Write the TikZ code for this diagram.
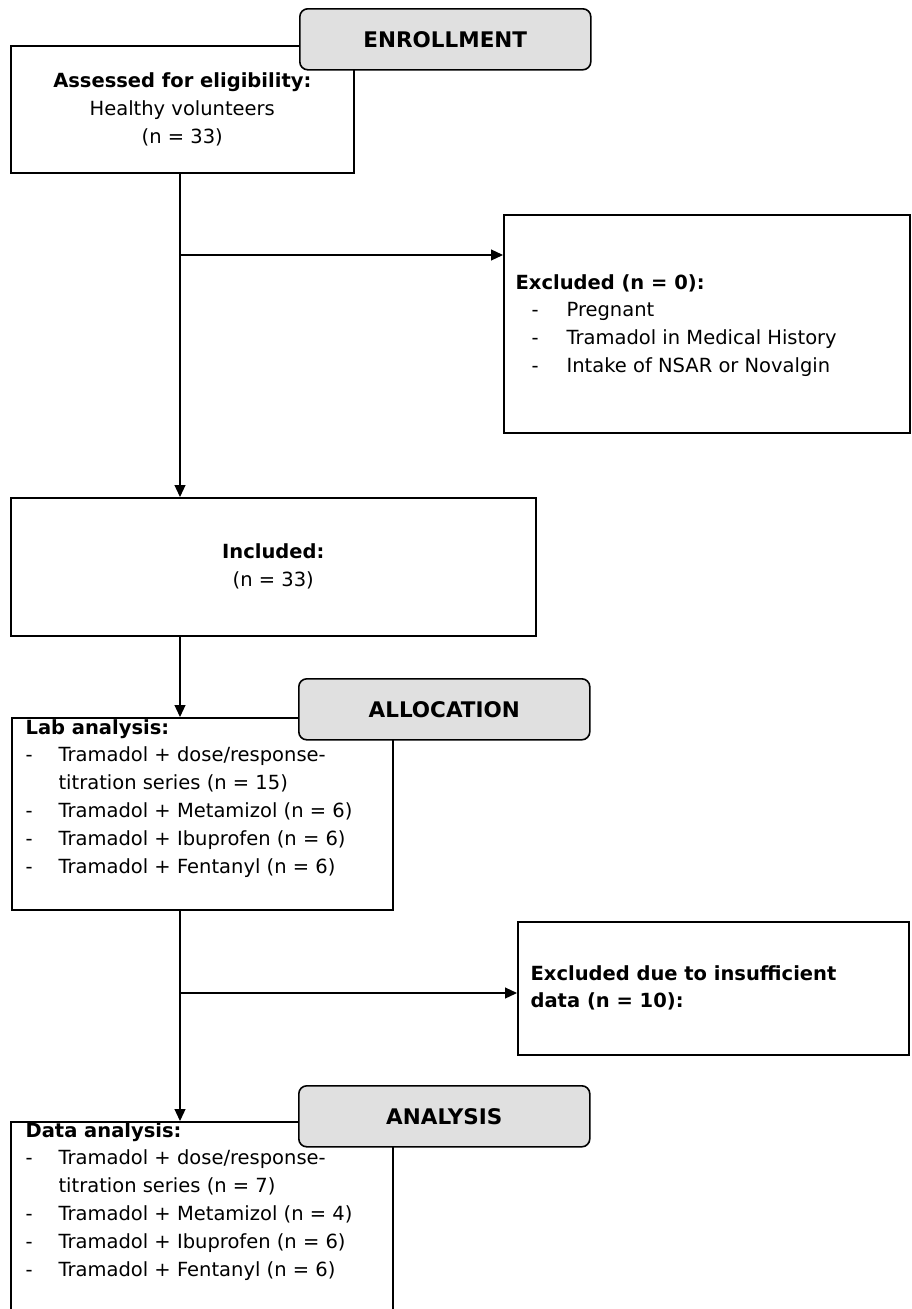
\documentclass[tikz,border=0pt]{standalone}
\usepackage{fontspec}
\setmainfont{DejaVu Sans}
\usetikzlibrary{arrows.meta}

\def\linesep{27.8}
\newcommand{\lstdash}{\makebox[33pt][l]{-}}
\newcommand{\lstgap}{\hspace*{33pt}}

\begin{document}
\begin{tikzpicture}[x=1pt,y=-1pt,->,>={Triangle[length=12pt,width=11pt]},line width=1.2pt]
        \tikzstyle{box}=[draw=black,line width=1.6pt,rectangle,anchor=north west,inner sep=0pt,align=center,font=\fontsize{19.5}{28}\selectfont]
        \tikzstyle{stage}=[box,rounded corners=8pt,fill=black!12,minimum width=291pt,minimum height=61pt,font=\fontsize{21.5}{24}\selectfont\bfseries]
        \tikzstyle{txt}=[anchor=base west,inner sep=0pt,font=\fontsize{19.5}{28}\selectfont]
        \tikzstyle{hd}=[txt,font=\fontsize{19.5}{28}\selectfont\bfseries]

        \useasboundingbox (0,0) rectangle (912,1309);

        % Draw the boxes
        \node[box,minimum width=343pt,minimum height=127pt] (assess) at (10,45) {\textbf{Assessed for eligibility:}\\Healthy volunteers\\(n = 33)};
        \node[box,minimum width=406pt,minimum height=218pt] (excl) at (503,214) {};
        \node[box,minimum width=525pt,minimum height=138pt] (incl) at (10,497) {\textbf{Included:}\\(n = 33)};
        \node[box,minimum width=381pt,minimum height=192pt] (lab) at (11,717) {};
        \node[box,minimum width=391pt,minimum height=133pt] (insuf) at (517,921) {};
        \node[box,minimum width=382pt,minimum height=230pt] (data) at (10,1121) {};

        % Stage labels
        \node[stage] (enroll) at (299,8) {ENROLLMENT};
        \node[stage] (alloc) at (298,678) {ALLOCATION};
        \node[stage] (anal) at (298,1085) {ANALYSIS};

        \node[hd] (excl-h) at (515,289) {Excluded (n = 0):};
        \foreach \txt [count=\i] in {Pregnant, Tramadol in Medical History, Intake of NSAR or Novalgin}
            \node[txt] (excl-\i) at (531,289+\i*\linesep) {\makebox[35pt][l]{-}\txt};

        \node[hd] (lab-h) at (25,734) {Lab analysis:};
        \foreach \txt [count=\i] in {{\lstdash Tramadol + dose/response-}, {\lstgap titration series (n = 15)},
                {\lstdash Tramadol + Metamizol (n = 6)}, {\lstdash Tramadol + Ibuprofen (n = 6)}, {\lstdash Tramadol + Fentanyl (n = 6)}}
            \node[txt] (lab-\i) at (25,734+\i*\linesep) {\txt};

        \node[hd] (insuf-1) at (530,980) {Excluded due to insufficient};
        \node[hd] (insuf-2) at (530,1007) {data (n = 10):};

        \node[hd] (data-h) at (25,1137) {Data analysis:};
        \foreach \txt [count=\i] in {{\lstdash Tramadol + dose/response-}, {\lstgap titration series (n = 7)},
                {\lstdash Tramadol + Metamizol (n = 4)}, {\lstdash Tramadol + Ibuprofen (n = 6)}, {\lstdash Tramadol + Fentanyl (n = 6)}}
            \node[txt] (data-\i) at (25,1137+\i*\linesep) {\txt};

        % Connectors
        \coordinate (split-1) at (180,255);
        \coordinate (split-2) at (180,993);
        \draw (split-1 |- assess.south) -- (split-1 |- incl.north);
        \draw (split-1) -- (split-1 -| excl.west);
        \draw (split-1 |- incl.south) -- (split-1 |- lab.north);
        \draw (split-2 |- lab.south) -- (split-2 |- data.north);
        \draw (split-2) -- (split-2 -| insuf.west);
    \end{tikzpicture}
\end{document}
